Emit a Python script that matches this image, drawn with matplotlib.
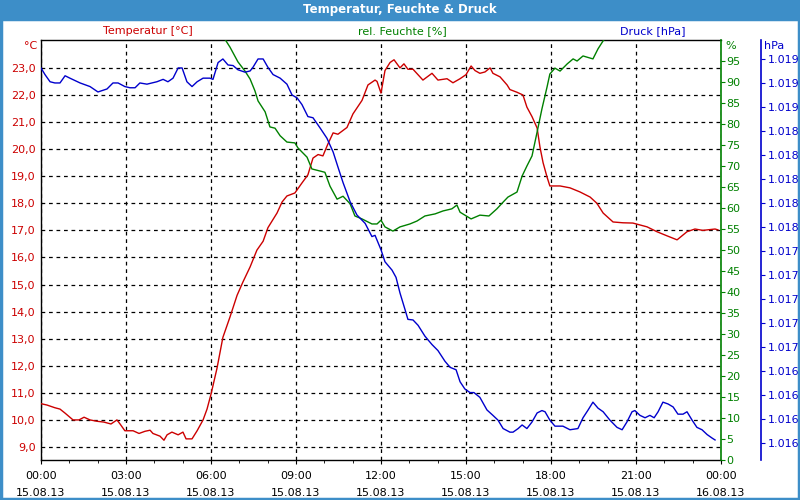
import matplotlib.pyplot as plt
from matplotlib.patches import Rectangle

# hours since 15.08.13 00:00
temp_h = [0.0, 0.21, 0.49, 0.67, 0.85, 1.13, 1.34, 1.52, 1.73, 1.98, 2.22, 2.47, 2.68, 2.79,
          2.96, 3.25, 3.46, 3.67, 3.85, 3.95, 4.2, 4.34, 4.45, 4.62, 4.84, 5.01, 5.12, 5.33,
          5.51, 5.72, 5.86, 6.0, 6.21, 6.42, 6.67, 6.92, 7.13, 7.38, 7.62, 7.84, 8.01, 8.33,
          8.51, 8.68, 8.96, 9.21, 9.42, 9.6, 9.78, 9.95, 10.13, 10.31, 10.48, 10.8, 11.01,
          11.33, 11.54, 11.79, 11.86, 12.0, 12.14, 12.32, 12.46, 12.67, 12.81, 12.95, 13.13,
          13.48, 13.8, 14.01, 14.33, 14.54, 14.79, 15.0, 15.18, 15.32, 15.49, 15.67, 15.85,
          15.95, 16.2, 16.45, 16.55, 16.8, 17.01, 17.15, 17.33, 17.51, 17.61, 17.72, 17.86,
          17.96, 18.32, 18.67, 19.02, 19.38, 19.62, 19.84, 20.19, 20.54, 20.89, 21.39, 21.74,
          22.09, 22.45, 22.8, 23.08, 23.36, 23.79, 23.89]
temp = [10.6, 10.55, 10.45, 10.4, 10.25, 10.0, 10.0, 10.1, 10.0, 9.95, 9.92, 9.85, 10.0, 9.85,
        9.6, 9.6, 9.5, 9.58, 9.62, 9.5, 9.4, 9.25, 9.45, 9.55, 9.45, 9.55, 9.3, 9.3,
        9.6, 10.0, 10.4, 10.95, 11.9, 13.05, 13.8, 14.6, 15.1, 15.65, 16.27, 16.6, 17.1, 17.64,
        18.05, 18.27, 18.38, 18.75, 19.05, 19.67, 19.8, 19.75, 20.2, 20.6, 20.55, 20.8, 21.3,
        21.8, 22.37, 22.55, 22.5, 22.07, 22.9, 23.2, 23.3, 23.0, 23.15, 22.95, 22.95,
        22.55, 22.8, 22.55, 22.6, 22.45, 22.6, 22.75, 23.07, 22.9, 22.8, 22.85, 23.0,
        22.8, 22.67, 22.37, 22.2, 22.1, 22.0, 21.55, 21.2, 20.78, 20.08, 19.5, 18.97,
        18.64, 18.64, 18.57, 18.42, 18.23, 18.0, 17.64, 17.31, 17.28, 17.27, 17.13, 16.95,
        16.8, 16.65, 16.95, 17.05, 17.0, 17.05, 17.02]

# humidity runs above 100 % (off the chart) before ~6:30 and after ~20:00
hum_h = [6.3, 6.49, 6.67, 6.95, 7.2, 7.38, 7.55, 7.66, 7.91, 8.08, 8.26, 8.44, 8.68, 8.96, 9.07,
         9.39, 9.56, 9.85, 10.02, 10.2, 10.45, 10.66, 10.91, 11.08, 11.33, 11.68, 11.86, 12.0,
         12.14, 12.42, 12.67, 13.02, 13.27, 13.55, 13.91, 14.19, 14.5, 14.68, 14.79, 15.18,
         15.49, 15.81, 16.09, 16.31, 16.48, 16.8, 16.98, 17.15, 17.33, 17.51, 17.68, 17.86,
         17.96, 18.14, 18.32, 18.57, 18.78, 18.92, 19.13, 19.48, 19.66, 19.84, 20.1, 21.0,
         23.9]
hum = [102.5, 100.2, 98.3, 94.8, 92.6, 90.7, 87.9, 85.5, 82.9, 79.3, 79.0, 77.2, 75.7, 75.5, 74.3,
       72.1, 69.3, 68.8, 68.5, 65.2, 62.1, 62.8, 61.0, 58.1, 57.4, 56.2, 56.2, 57.1,
       55.5, 54.5, 55.5, 56.2, 56.9, 58.1, 58.6, 59.3, 59.8, 60.7, 59.0, 57.4,
       58.3, 58.1, 59.8, 61.4, 62.6, 63.8, 67.6, 70.0, 72.4, 78.1, 83.6, 88.8,
       91.9, 93.3, 92.6, 94.3, 95.5, 95.0, 96.2, 95.5, 97.9, 99.8, 102.0, 103.0,
       103.0]

pres_h = [0.0, 0.14, 0.32, 0.49, 0.67, 0.85, 1.02, 1.38, 1.73, 2.01, 2.33, 2.54, 2.72, 2.96,
          3.14, 3.32, 3.49, 3.74, 4.09, 4.31, 4.48, 4.66, 4.84, 4.98, 5.15, 5.33, 5.51, 5.72,
          5.96, 6.07, 6.25, 6.42, 6.6, 6.78, 6.95, 7.2, 7.38, 7.48, 7.66, 7.84, 8.01, 8.19,
          8.44, 8.68, 8.86, 9.04, 9.21, 9.42, 9.6, 9.85, 10.09, 10.31, 10.48, 10.66, 10.91,
          11.15, 11.44, 11.68, 11.79, 12.0, 12.14, 12.39, 12.53, 12.67, 12.85, 12.95, 13.13,
          13.31, 13.55, 13.8, 14.01, 14.26, 14.44, 14.65, 14.79, 14.96, 15.14, 15.28, 15.49,
          15.74, 15.95, 16.13, 16.31, 16.55, 16.66, 16.84, 16.98, 17.15, 17.33, 17.51, 17.68,
          17.79, 17.96, 18.14, 18.42, 18.67, 18.95, 19.13, 19.31, 19.48, 19.66, 19.84, 20.08,
          20.33, 20.51, 20.68, 20.86, 20.96, 21.14, 21.32, 21.49, 21.64, 21.78, 21.95, 22.13,
          22.31, 22.48, 22.66, 22.8, 22.98, 23.15, 23.33, 23.51, 23.69, 23.79]
pres = [1019.325, 1019.27, 1019.21, 1019.2, 1019.2, 1019.26, 1019.24, 1019.2, 1019.17, 1019.125,
        1019.15, 1019.2, 1019.2, 1019.17, 1019.16, 1019.16, 1019.2, 1019.19, 1019.21, 1019.23,
        1019.21, 1019.24, 1019.325, 1019.325, 1019.21, 1019.17, 1019.21, 1019.24, 1019.24,
        1019.23, 1019.37, 1019.4, 1019.35, 1019.345, 1019.31, 1019.29, 1019.3, 1019.33, 1019.4,
        1019.4, 1019.33, 1019.27, 1019.24, 1019.19, 1019.1, 1019.075, 1019.02, 1018.92, 1018.91,
        1018.825, 1018.74, 1018.625, 1018.5, 1018.37, 1018.21, 1018.1, 1018.03, 1017.92, 1017.93,
        1017.81, 1017.71, 1017.64, 1017.58, 1017.45, 1017.31, 1017.23, 1017.225, 1017.18,
        1017.09, 1017.02, 1016.97, 1016.88, 1016.83, 1016.81, 1016.71, 1016.65, 1016.62,
        1016.62, 1016.58, 1016.475, 1016.43, 1016.39, 1016.32, 1016.29, 1016.29, 1016.32,
        1016.35, 1016.32, 1016.375, 1016.45, 1016.47, 1016.46, 1016.39, 1016.34, 1016.34,
        1016.31, 1016.32, 1016.41, 1016.475, 1016.54, 1016.49, 1016.46, 1016.39, 1016.33,
        1016.31, 1016.375, 1016.46, 1016.47, 1016.43, 1016.41, 1016.43, 1016.41, 1016.46,
        1016.54, 1016.525, 1016.5, 1016.44, 1016.44, 1016.46, 1016.39, 1016.33, 1016.31,
        1016.27, 1016.24, 1016.225]

x_ticks = [0, 3, 6, 9, 12, 15, 18, 21, 24]
x_labels = ['00:00\n15.08.13', '03:00\n15.08.13', '06:00\n15.08.13', '09:00\n15.08.13',
            '12:00\n15.08.13', '15:00\n15.08.13', '18:00\n15.08.13', '21:00\n15.08.13',
            '00:00\n16.08.13']
temp_ticks = list(range(9, 24))
hum_ticks = list(range(0, 100, 5))
pres_ticks = [1016.2 + 0.2 * i for i in range(17)]

RED = '#cc0000'
GREEN = '#008000'
BLUE = '#0000cc'
BAR = '#3d8ec8'

plt.rcParams['font.family'] = 'DejaVu Sans'
plt.rcParams['font.size'] = 8

fig = plt.figure(figsize=(8, 5), dpi=100)
fig.patch.set_facecolor('white')

# title bar and blue frame
fig.patches.append(Rectangle((0, 0.96), 1, 0.04, transform=fig.transFigure,
                             facecolor=BAR, edgecolor='none', zorder=0))
fig.patches.append(Rectangle((0.0015, 0.003), 0.997, 0.96, transform=fig.transFigure,
                             facecolor='none', edgecolor=BAR, lw=2.5, zorder=0))
fig.text(0.5, 0.98, 'Temperatur, Feuchte & Druck', color='white', weight='bold',
         ha='center', va='center', fontsize=8.5)

ax = fig.add_axes([41 / 800, 40 / 500, 680 / 800, 420 / 500])
ax.set_xlim(0, 24)
ax.set_ylim(8.52, 24.03)
ax.plot(temp_h, temp, color=RED, lw=1.0, zorder=3)
ax.set_yticks(temp_ticks)
ax.set_yticklabels([f'{t},0' for t in temp_ticks], color=RED)
ax.tick_params(axis='y', length=0, pad=4)
ax.set_xticks(x_ticks)
ax.set_xticklabels(x_labels, linespacing=1.9)
ax.set_xticks(range(25), minor=True)
ax.tick_params(axis='x', which='major', length=3, pad=5)
ax.tick_params(axis='x', which='minor', length=2)
ax.grid(True, color='black', linestyle=(0, (3, 3)), lw=0.9)
for s in ['left', 'top', 'bottom']:
    ax.spines[s].set_linewidth(1.0)
ax.spines['right'].set_visible(False)

ax2 = ax.twinx()
ax2.set_ylim(0, 100)
ax2.plot(hum_h, hum, color=GREEN, lw=1.0)
ax2.set_yticks(hum_ticks)
ax2.tick_params(axis='y', colors=GREEN, length=3, pad=1)
ax2.spines['right'].set_color(GREEN)
ax2.spines['right'].set_linewidth(1.2)
for s in ['left', 'top', 'bottom']:
    ax2.spines[s].set_visible(False)

ax3 = ax.twinx()
ax3.set_ylim(1016.058, 1019.558)
ax3.plot(pres_h, pres, color=BLUE, lw=1.0)
ax3.set_yticks(pres_ticks)
ax3.set_yticklabels([f'1.0{int(p) % 100:02d}' for p in pres_ticks], color=BLUE, fontsize=7.2)
ax3.tick_params(axis='y', colors=BLUE, length=3, pad=2)
ax3.spines['right'].set_position(('axes', 720 / 680))
ax3.spines['right'].set_color(BLUE)
ax3.spines['right'].set_linewidth(1.2)
for s in ['left', 'top', 'bottom']:
    ax3.spines[s].set_visible(False)

# series names and axis units
fig.text(148 / 800, 1 - 31 / 500, 'Temperatur [°C]', color=RED, ha='center', va='center')
fig.text(402 / 800, 1 - 31 / 500, 'rel. Feuchte [%]', color=GREEN, ha='center', va='center')
fig.text(653 / 800, 1 - 31 / 500, 'Druck [hPa]', color=BLUE, ha='center', va='center')
fig.text(37 / 800, 1 - 46 / 500, '°C', color=RED, ha='right', va='center')
fig.text(725 / 800, 1 - 46 / 500, '%', color=GREEN, ha='left', va='center')
fig.text(764 / 800, 1 - 46 / 500, 'hPa', color=BLUE, ha='left', va='center')

fig.savefig('out.png', dpi=100)
